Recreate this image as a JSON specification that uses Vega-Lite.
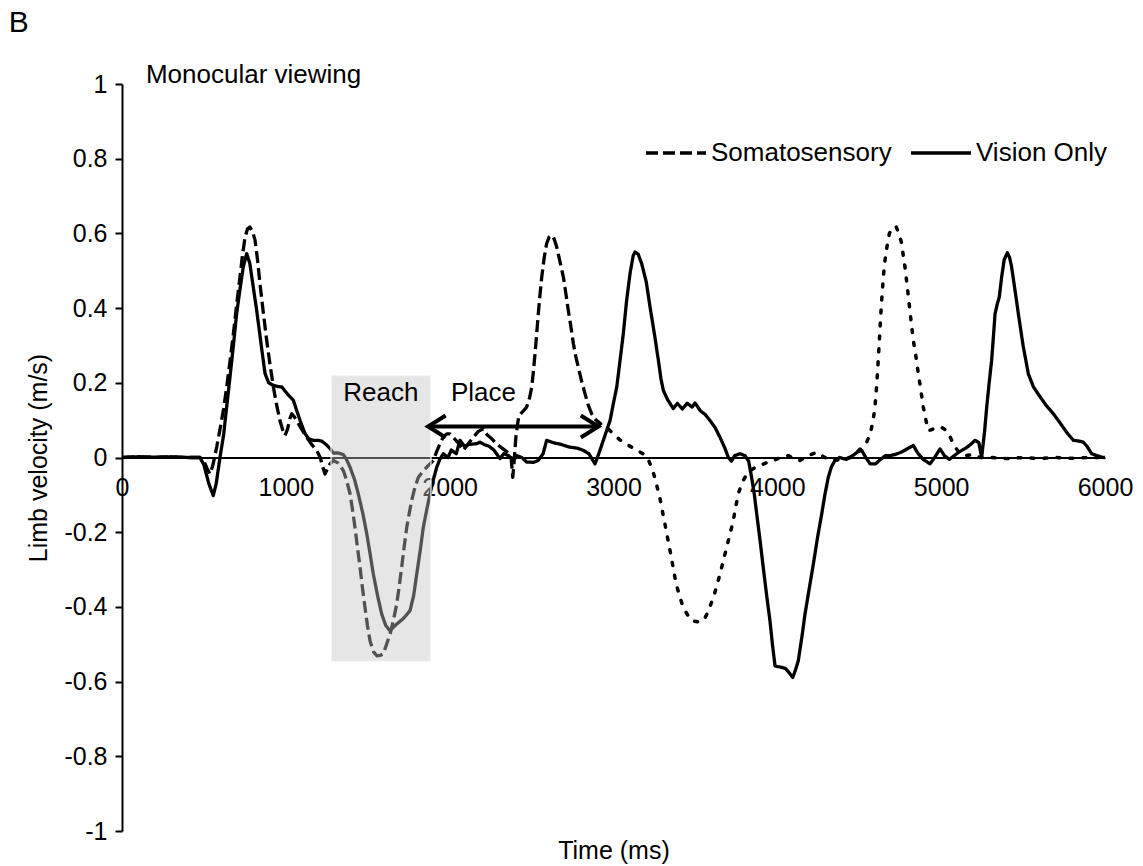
{
  "$schema": "https://vega.github.io/schema/vega-lite/v6.json",
  "width": 983,
  "height": 747,
  "autosize": {"type": "none"},
  "padding": {"left": 122, "top": 84, "right": 38, "bottom": 35},
  "background": "white",
  "config": {
    "view": {"stroke": null},
    "font": "Liberation Sans",
    "text": {"font": "Liberation Sans"}
  },
  "datasets": {
    "vision": [
      {"series":"Vision Only","t":0,"v":0},{"series":"Vision Only","t":100,"v":0.002},{"series":"Vision Only","t":200,"v":0.001},{"series":"Vision Only","t":300,"v":0.002},{"series":"Vision Only","t":400,"v":0},{"series":"Vision Only","t":476,"v":0},{"series":"Vision Only","t":500,"v":-0.02},{"series":"Vision Only","t":530,"v":-0.07},{"series":"Vision Only","t":557,"v":-0.102},{"series":"Vision Only","t":575,"v":-0.07},{"series":"Vision Only","t":598,"v":0},{"series":"Vision Only","t":620,"v":0.06},{"series":"Vision Only","t":640,"v":0.14},{"series":"Vision Only","t":659,"v":0.215},{"series":"Vision Only","t":680,"v":0.3},{"series":"Vision Only","t":700,"v":0.386},{"series":"Vision Only","t":720,"v":0.45},{"series":"Vision Only","t":740,"v":0.51},{"series":"Vision Only","t":761,"v":0.546},{"series":"Vision Only","t":780,"v":0.52},{"series":"Vision Only","t":800,"v":0.46},{"series":"Vision Only","t":822,"v":0.394},{"series":"Vision Only","t":850,"v":0.3},{"series":"Vision Only","t":873,"v":0.225},{"series":"Vision Only","t":895,"v":0.2},{"series":"Vision Only","t":924,"v":0.193},{"series":"Vision Only","t":950,"v":0.19},{"series":"Vision Only","t":975,"v":0.189},{"series":"Vision Only","t":1010,"v":0.17},{"series":"Vision Only","t":1046,"v":0.153},{"series":"Vision Only","t":1067,"v":0.125},{"series":"Vision Only","t":1087,"v":0.099},{"series":"Vision Only","t":1117,"v":0.064},{"series":"Vision Only","t":1140,"v":0.05},{"series":"Vision Only","t":1168,"v":0.046},{"series":"Vision Only","t":1195,"v":0.046},{"series":"Vision Only","t":1219,"v":0.044},{"series":"Vision Only","t":1245,"v":0.035},{"series":"Vision Only","t":1270,"v":0.024},{"series":"Vision Only","t":1290,"v":0.012},{"series":"Vision Only","t":1320,"v":0.012},{"series":"Vision Only","t":1350,"v":0.008},{"series":"Vision Only","t":1370,"v":-0.005},{"series":"Vision Only","t":1392,"v":-0.026},{"series":"Vision Only","t":1420,"v":-0.06},{"series":"Vision Only","t":1442,"v":-0.097},{"series":"Vision Only","t":1470,"v":-0.15},{"series":"Vision Only","t":1494,"v":-0.204},{"series":"Vision Only","t":1515,"v":-0.26},{"series":"Vision Only","t":1534,"v":-0.312},{"series":"Vision Only","t":1560,"v":-0.37},{"series":"Vision Only","t":1585,"v":-0.419},{"series":"Vision Only","t":1610,"v":-0.45},{"series":"Vision Only","t":1636,"v":-0.464},{"series":"Vision Only","t":1655,"v":-0.455},{"series":"Vision Only","t":1677,"v":-0.446},{"series":"Vision Only","t":1720,"v":-0.43},{"series":"Vision Only","t":1758,"v":-0.41},{"series":"Vision Only","t":1780,"v":-0.37},{"series":"Vision Only","t":1799,"v":-0.312},{"series":"Vision Only","t":1820,"v":-0.25},{"series":"Vision Only","t":1839,"v":-0.187},{"series":"Vision Only","t":1860,"v":-0.14},{"series":"Vision Only","t":1880,"v":-0.097},{"series":"Vision Only","t":1900,"v":-0.06},{"series":"Vision Only","t":1921,"v":-0.026},{"series":"Vision Only","t":1940,"v":-0.005},{"series":"Vision Only","t":1961,"v":0.01},{"series":"Vision Only","t":1990,"v":0},{"series":"Vision Only","t":2010,"v":0.02},{"series":"Vision Only","t":2040,"v":0.01},{"series":"Vision Only","t":2063,"v":0.046},{"series":"Vision Only","t":2090,"v":0.03},{"series":"Vision Only","t":2120,"v":0.035},{"series":"Vision Only","t":2165,"v":0.037},{"series":"Vision Only","t":2185,"v":0.041},{"series":"Vision Only","t":2210,"v":0.035},{"series":"Vision Only","t":2240,"v":0.03},{"series":"Vision Only","t":2270,"v":0.02},{"series":"Vision Only","t":2307,"v":-0.003},{"series":"Vision Only","t":2330,"v":0.01},{"series":"Vision Only","t":2360,"v":0.005},{"series":"Vision Only","t":2388,"v":-0.008},{"series":"Vision Only","t":2410,"v":0.005},{"series":"Vision Only","t":2440,"v":0},{"series":"Vision Only","t":2470,"v":-0.012},{"series":"Vision Only","t":2511,"v":-0.013},{"series":"Vision Only","t":2540,"v":-0.008},{"series":"Vision Only","t":2570,"v":0.01},{"series":"Vision Only","t":2592,"v":0.046},{"series":"Vision Only","t":2630,"v":0.04},{"series":"Vision Only","t":2680,"v":0.035},{"series":"Vision Only","t":2730,"v":0.028},{"series":"Vision Only","t":2780,"v":0.025},{"series":"Vision Only","t":2816,"v":0.019},{"series":"Vision Only","t":2850,"v":0.01},{"series":"Vision Only","t":2887,"v":-0.017},{"series":"Vision Only","t":2910,"v":0.01},{"series":"Vision Only","t":2938,"v":0.046},{"series":"Vision Only","t":2958,"v":0.072},{"series":"Vision Only","t":2979,"v":0.099},{"series":"Vision Only","t":2999,"v":0.144},{"series":"Vision Only","t":3020,"v":0.189},{"series":"Vision Only","t":3040,"v":0.26},{"series":"Vision Only","t":3060,"v":0.332},{"series":"Vision Only","t":3080,"v":0.42},{"series":"Vision Only","t":3101,"v":0.493},{"series":"Vision Only","t":3120,"v":0.54},{"series":"Vision Only","t":3131,"v":0.55},{"series":"Vision Only","t":3150,"v":0.545},{"series":"Vision Only","t":3172,"v":0.519},{"series":"Vision Only","t":3200,"v":0.47},{"series":"Vision Only","t":3223,"v":0.403},{"series":"Vision Only","t":3250,"v":0.33},{"series":"Vision Only","t":3274,"v":0.26},{"series":"Vision Only","t":3290,"v":0.21},{"series":"Vision Only","t":3304,"v":0.18},{"series":"Vision Only","t":3330,"v":0.155},{"series":"Vision Only","t":3365,"v":0.131},{"series":"Vision Only","t":3390,"v":0.145},{"series":"Vision Only","t":3420,"v":0.13},{"series":"Vision Only","t":3450,"v":0.145},{"series":"Vision Only","t":3480,"v":0.135},{"series":"Vision Only","t":3498,"v":0.146},{"series":"Vision Only","t":3530,"v":0.125},{"series":"Vision Only","t":3560,"v":0.115},{"series":"Vision Only","t":3589,"v":0.099},{"series":"Vision Only","t":3620,"v":0.08},{"series":"Vision Only","t":3650,"v":0.054},{"series":"Vision Only","t":3680,"v":0.025},{"series":"Vision Only","t":3701,"v":0},{"series":"Vision Only","t":3720,"v":-0.01},{"series":"Vision Only","t":3740,"v":0.005},{"series":"Vision Only","t":3772,"v":0.01},{"series":"Vision Only","t":3803,"v":0.005},{"series":"Vision Only","t":3825,"v":-0.01},{"series":"Vision Only","t":3843,"v":-0.053},{"series":"Vision Only","t":3860,"v":-0.1},{"series":"Vision Only","t":3874,"v":-0.151},{"series":"Vision Only","t":3894,"v":-0.22},{"series":"Vision Only","t":3914,"v":-0.294},{"series":"Vision Only","t":3935,"v":-0.37},{"series":"Vision Only","t":3955,"v":-0.437},{"series":"Vision Only","t":3970,"v":-0.5},{"series":"Vision Only","t":3986,"v":-0.558},{"series":"Vision Only","t":4005,"v":-0.56},{"series":"Vision Only","t":4027,"v":-0.562},{"series":"Vision Only","t":4050,"v":-0.565},{"series":"Vision Only","t":4070,"v":-0.575},{"series":"Vision Only","t":4094,"v":-0.589},{"series":"Vision Only","t":4110,"v":-0.57},{"series":"Vision Only","t":4128,"v":-0.544},{"series":"Vision Only","t":4150,"v":-0.48},{"series":"Vision Only","t":4169,"v":-0.419},{"series":"Vision Only","t":4195,"v":-0.35},{"series":"Vision Only","t":4220,"v":-0.285},{"series":"Vision Only","t":4245,"v":-0.215},{"series":"Vision Only","t":4271,"v":-0.151},{"series":"Vision Only","t":4290,"v":-0.1},{"series":"Vision Only","t":4311,"v":-0.053},{"series":"Vision Only","t":4330,"v":-0.025},{"series":"Vision Only","t":4352,"v":-0.008},{"series":"Vision Only","t":4380,"v":0},{"series":"Vision Only","t":4420,"v":-0.005},{"series":"Vision Only","t":4460,"v":0.005},{"series":"Vision Only","t":4490,"v":0.015},{"series":"Vision Only","t":4515,"v":0.019},{"series":"Vision Only","t":4540,"v":0},{"series":"Vision Only","t":4566,"v":-0.017},{"series":"Vision Only","t":4600,"v":-0.017},{"series":"Vision Only","t":4630,"v":-0.005},{"series":"Vision Only","t":4660,"v":0.005},{"series":"Vision Only","t":4688,"v":0.005},{"series":"Vision Only","t":4720,"v":0.008},{"series":"Vision Only","t":4760,"v":0.015},{"series":"Vision Only","t":4800,"v":0.025},{"series":"Vision Only","t":4830,"v":0.032},{"series":"Vision Only","t":4860,"v":0.01},{"series":"Vision Only","t":4890,"v":-0.005},{"series":"Vision Only","t":4932,"v":-0.017},{"series":"Vision Only","t":4960,"v":0},{"series":"Vision Only","t":4993,"v":0.023},{"series":"Vision Only","t":5020,"v":0.005},{"series":"Vision Only","t":5050,"v":-0.005},{"series":"Vision Only","t":5080,"v":0.005},{"series":"Vision Only","t":5110,"v":0.015},{"series":"Vision Only","t":5150,"v":0.025},{"series":"Vision Only","t":5180,"v":0.035},{"series":"Vision Only","t":5207,"v":0.046},{"series":"Vision Only","t":5230,"v":0.04},{"series":"Vision Only","t":5247,"v":0},{"series":"Vision Only","t":5265,"v":0.07},{"series":"Vision Only","t":5278,"v":0.135},{"series":"Vision Only","t":5293,"v":0.2},{"series":"Vision Only","t":5308,"v":0.26},{"series":"Vision Only","t":5320,"v":0.33},{"series":"Vision Only","t":5329,"v":0.385},{"series":"Vision Only","t":5342,"v":0.41},{"series":"Vision Only","t":5355,"v":0.43},{"series":"Vision Only","t":5369,"v":0.483},{"series":"Vision Only","t":5385,"v":0.53},{"series":"Vision Only","t":5404,"v":0.548},{"series":"Vision Only","t":5418,"v":0.535},{"series":"Vision Only","t":5430,"v":0.51},{"series":"Vision Only","t":5450,"v":0.45},{"series":"Vision Only","t":5471,"v":0.385},{"series":"Vision Only","t":5500,"v":0.3},{"series":"Vision Only","t":5532,"v":0.224},{"series":"Vision Only","t":5563,"v":0.189},{"series":"Vision Only","t":5600,"v":0.165},{"series":"Vision Only","t":5640,"v":0.14},{"series":"Vision Only","t":5685,"v":0.117},{"series":"Vision Only","t":5730,"v":0.09},{"series":"Vision Only","t":5770,"v":0.065},{"series":"Vision Only","t":5807,"v":0.046},{"series":"Vision Only","t":5840,"v":0.044},{"series":"Vision Only","t":5868,"v":0.041},{"series":"Vision Only","t":5890,"v":0.03},{"series":"Vision Only","t":5919,"v":0.01},{"series":"Vision Only","t":5950,"v":0.005},{"series":"Vision Only","t":5990,"v":0},{"series":"Vision Only","t":6000,"v":0}
    ],
    "soma": [
      {"series":"Somatosensory","t":0,"v":0},{"series":"Somatosensory","t":100,"v":0.002},{"series":"Somatosensory","t":200,"v":0},{"series":"Somatosensory","t":300,"v":0.001},{"series":"Somatosensory","t":400,"v":0},{"series":"Somatosensory","t":476,"v":0},{"series":"Somatosensory","t":500,"v":-0.01},{"series":"Somatosensory","t":520,"v":-0.03},{"series":"Somatosensory","t":537,"v":-0.044},{"series":"Somatosensory","t":555,"v":-0.02},{"series":"Somatosensory","t":578,"v":0.028},{"series":"Somatosensory","t":600,"v":0.08},{"series":"Somatosensory","t":620,"v":0.13},{"series":"Somatosensory","t":639,"v":0.189},{"series":"Somatosensory","t":660,"v":0.26},{"series":"Somatosensory","t":680,"v":0.332},{"series":"Somatosensory","t":700,"v":0.41},{"series":"Somatosensory","t":720,"v":0.483},{"series":"Somatosensory","t":735,"v":0.54},{"series":"Somatosensory","t":751,"v":0.59},{"series":"Somatosensory","t":766,"v":0.612},{"series":"Somatosensory","t":781,"v":0.617},{"series":"Somatosensory","t":797,"v":0.605},{"series":"Somatosensory","t":812,"v":0.582},{"series":"Somatosensory","t":827,"v":0.53},{"series":"Somatosensory","t":842,"v":0.466},{"series":"Somatosensory","t":862,"v":0.39},{"series":"Somatosensory","t":883,"v":0.314},{"series":"Somatosensory","t":903,"v":0.25},{"series":"Somatosensory","t":924,"v":0.189},{"series":"Somatosensory","t":944,"v":0.14},{"series":"Somatosensory","t":964,"v":0.099},{"series":"Somatosensory","t":980,"v":0.075},{"series":"Somatosensory","t":995,"v":0.059},{"series":"Somatosensory","t":1010,"v":0.075},{"series":"Somatosensory","t":1025,"v":0.105},{"series":"Somatosensory","t":1036,"v":0.117},{"series":"Somatosensory","t":1050,"v":0.11},{"series":"Somatosensory","t":1066,"v":0.099},{"series":"Somatosensory","t":1097,"v":0.075},{"series":"Somatosensory","t":1127,"v":0.054},{"series":"Somatosensory","t":1158,"v":0.035},{"series":"Somatosensory","t":1188,"v":0.019},{"series":"Somatosensory","t":1210,"v":0},{"series":"Somatosensory","t":1225,"v":-0.025},{"series":"Somatosensory","t":1239,"v":-0.044},{"series":"Somatosensory","t":1255,"v":-0.03},{"series":"Somatosensory","t":1270,"v":-0.017},{"series":"Somatosensory","t":1290,"v":-0.008},{"series":"Somatosensory","t":1320,"v":-0.015},{"series":"Somatosensory","t":1351,"v":-0.035},{"series":"Somatosensory","t":1370,"v":-0.06},{"series":"Somatosensory","t":1392,"v":-0.097},{"series":"Somatosensory","t":1407,"v":-0.14},{"series":"Somatosensory","t":1422,"v":-0.187},{"series":"Somatosensory","t":1437,"v":-0.24},{"series":"Somatosensory","t":1453,"v":-0.294},{"series":"Somatosensory","t":1468,"v":-0.35},{"series":"Somatosensory","t":1483,"v":-0.401},{"series":"Somatosensory","t":1498,"v":-0.45},{"series":"Somatosensory","t":1514,"v":-0.491},{"series":"Somatosensory","t":1535,"v":-0.52},{"series":"Somatosensory","t":1555,"v":-0.531},{"series":"Somatosensory","t":1575,"v":-0.53},{"series":"Somatosensory","t":1595,"v":-0.526},{"series":"Somatosensory","t":1615,"v":-0.5},{"series":"Somatosensory","t":1636,"v":-0.473},{"series":"Somatosensory","t":1657,"v":-0.435},{"series":"Somatosensory","t":1677,"v":-0.392},{"series":"Somatosensory","t":1692,"v":-0.345},{"series":"Somatosensory","t":1707,"v":-0.294},{"series":"Somatosensory","t":1722,"v":-0.24},{"series":"Somatosensory","t":1738,"v":-0.187},{"series":"Somatosensory","t":1753,"v":-0.15},{"series":"Somatosensory","t":1768,"v":-0.115},{"series":"Somatosensory","t":1788,"v":-0.08},{"series":"Somatosensory","t":1809,"v":-0.053},{"series":"Somatosensory","t":1835,"v":-0.038},{"series":"Somatosensory","t":1860,"v":-0.026},{"series":"Somatosensory","t":1880,"v":-0.017},{"series":"Somatosensory","t":1900,"v":-0.008},{"series":"Somatosensory","t":1920,"v":0.015},{"series":"Somatosensory","t":1941,"v":0.037},{"series":"Somatosensory","t":1961,"v":0.055},{"series":"Somatosensory","t":1982,"v":0.063},{"series":"Somatosensory","t":2002,"v":0.063},{"series":"Somatosensory","t":2030,"v":0.05},{"series":"Somatosensory","t":2060,"v":0.035},{"series":"Somatosensory","t":2083,"v":0.019},{"series":"Somatosensory","t":2110,"v":0.035},{"series":"Somatosensory","t":2144,"v":0.054},{"series":"Somatosensory","t":2175,"v":0.07},{"series":"Somatosensory","t":2205,"v":0.077},{"series":"Somatosensory","t":2230,"v":0.06},{"series":"Somatosensory","t":2257,"v":0.05},{"series":"Somatosensory","t":2290,"v":0.035},{"series":"Somatosensory","t":2320,"v":0.025},{"series":"Somatosensory","t":2350,"v":0.015},{"series":"Somatosensory","t":2375,"v":0},{"series":"Somatosensory","t":2385,"v":-0.053},{"series":"Somatosensory","t":2392,"v":-0.02},{"series":"Somatosensory","t":2405,"v":0.06},{"series":"Somatosensory","t":2420,"v":0.105},{"series":"Somatosensory","t":2429,"v":0.115},{"series":"Somatosensory","t":2450,"v":0.125},{"series":"Somatosensory","t":2470,"v":0.135},{"series":"Somatosensory","t":2488,"v":0.16},{"series":"Somatosensory","t":2501,"v":0.189},{"series":"Somatosensory","t":2511,"v":0.23},{"series":"Somatosensory","t":2521,"v":0.278},{"series":"Somatosensory","t":2531,"v":0.33},{"series":"Somatosensory","t":2541,"v":0.385},{"series":"Somatosensory","t":2551,"v":0.435},{"series":"Somatosensory","t":2562,"v":0.483},{"series":"Somatosensory","t":2577,"v":0.535},{"series":"Somatosensory","t":2592,"v":0.573},{"series":"Somatosensory","t":2607,"v":0.59},{"series":"Somatosensory","t":2623,"v":0.595},{"series":"Somatosensory","t":2638,"v":0.585},{"series":"Somatosensory","t":2653,"v":0.564},{"series":"Somatosensory","t":2673,"v":0.525},{"series":"Somatosensory","t":2694,"v":0.483},{"series":"Somatosensory","t":2709,"v":0.44},{"series":"Somatosensory","t":2724,"v":0.394},{"series":"Somatosensory","t":2740,"v":0.35},{"series":"Somatosensory","t":2755,"v":0.305},{"series":"Somatosensory","t":2770,"v":0.27},{"series":"Somatosensory","t":2785,"v":0.242},{"series":"Somatosensory","t":2805,"v":0.205},{"series":"Somatosensory","t":2826,"v":0.171},{"series":"Somatosensory","t":2846,"v":0.14},{"series":"Somatosensory","t":2867,"v":0.117},{"series":"Somatosensory","t":2887,"v":0.103},{"series":"Somatosensory","t":2907,"v":0.095},{"series":"Somatosensory","t":2938,"v":0.085},{"series":"Somatosensory","t":2958,"v":0.081},{"series":"Somatosensory","t":2999,"v":0.063},{"series":"Somatosensory","t":3040,"v":0.047},{"series":"Somatosensory","t":3090,"v":0.033},{"series":"Somatosensory","t":3141,"v":0.02},{"series":"Somatosensory","t":3180,"v":0.01},{"series":"Somatosensory","t":3212,"v":-0.005},{"series":"Somatosensory","t":3235,"v":-0.03},{"series":"Somatosensory","t":3253,"v":-0.055},{"series":"Somatosensory","t":3270,"v":-0.085},{"series":"Somatosensory","t":3284,"v":-0.11},{"series":"Somatosensory","t":3299,"v":-0.145},{"series":"Somatosensory","t":3314,"v":-0.178},{"series":"Somatosensory","t":3330,"v":-0.215},{"series":"Somatosensory","t":3345,"v":-0.249},{"series":"Somatosensory","t":3360,"v":-0.285},{"series":"Somatosensory","t":3375,"v":-0.321},{"series":"Somatosensory","t":3390,"v":-0.35},{"series":"Somatosensory","t":3406,"v":-0.375},{"series":"Somatosensory","t":3421,"v":-0.395},{"series":"Somatosensory","t":3437,"v":-0.41},{"series":"Somatosensory","t":3457,"v":-0.425},{"series":"Somatosensory","t":3477,"v":-0.437},{"series":"Somatosensory","t":3512,"v":-0.44},{"series":"Somatosensory","t":3548,"v":-0.437},{"series":"Somatosensory","t":3564,"v":-0.425},{"series":"Somatosensory","t":3579,"v":-0.41},{"series":"Somatosensory","t":3594,"v":-0.393},{"series":"Somatosensory","t":3609,"v":-0.375},{"series":"Somatosensory","t":3630,"v":-0.345},{"series":"Somatosensory","t":3650,"v":-0.312},{"series":"Somatosensory","t":3670,"v":-0.277},{"series":"Somatosensory","t":3691,"v":-0.24},{"series":"Somatosensory","t":3711,"v":-0.205},{"series":"Somatosensory","t":3731,"v":-0.169},{"series":"Somatosensory","t":3747,"v":-0.13},{"series":"Somatosensory","t":3762,"v":-0.097},{"series":"Somatosensory","t":3777,"v":-0.077},{"series":"Somatosensory","t":3792,"v":-0.062},{"series":"Somatosensory","t":3812,"v":-0.045},{"series":"Somatosensory","t":3833,"v":-0.035},{"series":"Somatosensory","t":3864,"v":-0.027},{"series":"Somatosensory","t":3894,"v":-0.021},{"series":"Somatosensory","t":3935,"v":-0.014},{"series":"Somatosensory","t":3975,"v":-0.008},{"series":"Somatosensory","t":4020,"v":0},{"series":"Somatosensory","t":4067,"v":0.005},{"series":"Somatosensory","t":4100,"v":-0.002},{"series":"Somatosensory","t":4138,"v":-0.008},{"series":"Somatosensory","t":4190,"v":0.005},{"series":"Somatosensory","t":4240,"v":0.014},{"series":"Somatosensory","t":4290,"v":0},{"series":"Somatosensory","t":4342,"v":-0.008},{"series":"Somatosensory","t":4400,"v":-0.005},{"series":"Somatosensory","t":4450,"v":0},{"series":"Somatosensory","t":4500,"v":0.02},{"series":"Somatosensory","t":4545,"v":0.041},{"series":"Somatosensory","t":4565,"v":0.06},{"series":"Somatosensory","t":4576,"v":0.081},{"series":"Somatosensory","t":4588,"v":0.11},{"series":"Somatosensory","t":4596,"v":0.135},{"series":"Somatosensory","t":4604,"v":0.18},{"series":"Somatosensory","t":4611,"v":0.224},{"series":"Somatosensory","t":4617,"v":0.27},{"series":"Somatosensory","t":4623,"v":0.314},{"series":"Somatosensory","t":4628,"v":0.355},{"series":"Somatosensory","t":4633,"v":0.394},{"series":"Somatosensory","t":4640,"v":0.44},{"series":"Somatosensory","t":4647,"v":0.483},{"series":"Somatosensory","t":4655,"v":0.52},{"series":"Somatosensory","t":4663,"v":0.546},{"series":"Somatosensory","t":4673,"v":0.575},{"series":"Somatosensory","t":4684,"v":0.6},{"series":"Somatosensory","t":4700,"v":0.613},{"series":"Somatosensory","t":4724,"v":0.619},{"series":"Somatosensory","t":4742,"v":0.6},{"series":"Somatosensory","t":4759,"v":0.573},{"series":"Somatosensory","t":4769,"v":0.54},{"series":"Somatosensory","t":4779,"v":0.51},{"series":"Somatosensory","t":4790,"v":0.47},{"series":"Somatosensory","t":4800,"v":0.43},{"series":"Somatosensory","t":4815,"v":0.37},{"series":"Somatosensory","t":4830,"v":0.314},{"series":"Somatosensory","t":4846,"v":0.27},{"series":"Somatosensory","t":4861,"v":0.224},{"series":"Somatosensory","t":4876,"v":0.18},{"series":"Somatosensory","t":4891,"v":0.135},{"series":"Somatosensory","t":4907,"v":0.1},{"series":"Somatosensory","t":4922,"v":0.072},{"series":"Somatosensory","t":4945,"v":0.075},{"series":"Somatosensory","t":4973,"v":0.081},{"series":"Somatosensory","t":5005,"v":0.08},{"series":"Somatosensory","t":5034,"v":0.072},{"series":"Somatosensory","t":5055,"v":0.055},{"series":"Somatosensory","t":5074,"v":0.037},{"series":"Somatosensory","t":5095,"v":0.022},{"series":"Somatosensory","t":5115,"v":0.01},{"series":"Somatosensory","t":5150,"v":0.005},{"series":"Somatosensory","t":5190,"v":0.008},{"series":"Somatosensory","t":5237,"v":0},{"series":"Somatosensory","t":5300,"v":0},{"series":"Somatosensory","t":5400,"v":-0.003},{"series":"Somatosensory","t":5500,"v":0},{"series":"Somatosensory","t":5600,"v":-0.003},{"series":"Somatosensory","t":5700,"v":0},{"series":"Somatosensory","t":5800,"v":-0.002},{"series":"Somatosensory","t":5900,"v":0},{"series":"Somatosensory","t":6000,"v":0}
    ],
    "reach": [{"t1": 1276, "t2": 1886, "v1": 0.22, "v2": -0.547}],
    "arrow": [{"t1": 1868, "t2": 2908, "v": 0.083}],
    "heads": [{"t": 1868, "v": 0.083, "dir": "left"}, {"t": 2908, "v": 0.083, "dir": "right"}],
    "labels": [
      {"t": 1580, "v": 0.152, "text": "Reach"},
      {"t": 2206, "v": 0.152, "text": "Place"},
      {"t": 803, "v": 1.003, "text": "Monocular viewing"}
    ],
    "panel": [{"t": -630, "v": 1.138, "text": "B"}]
  },
  "layer": [
    {
      "data": {"name": "vision"},
      "mark": {"type": "line", "color": "black", "strokeWidth": 3.3, "strokeJoin": "round"},
      "encoding": {
        "x": {
          "field": "t", "type": "quantitative",
          "scale": {"domain": [0, 6000], "nice": false, "zero": false},
          "axis": {
            "title": "Time (ms)", "offset": -373.5, "ticks": false, "grid": false,
            "values": [0, 1000, 2000, 3000, 4000, 5000, 6000], "format": "d",
            "domainColor": "black", "domainWidth": 2,
            "labelFontSize": 25, "labelColor": "black", "labelPadding": 18,
            "labelFlush": false, "labelOverlap": false, "labelFont": "Liberation Sans",
            "titleFontSize": 25, "titleFontWeight": "normal", "titleColor": "black",
            "titleFont": "Liberation Sans", "titleY": 393, "titleBaseline": "middle"
          }
        },
        "y": {
          "field": "v", "type": "quantitative",
          "scale": {"domain": [-1, 1], "nice": false, "zero": false},
          "axis": {
            "title": "Limb velocity (m/s)", "grid": false,
            "values": [-1, -0.8, -0.6, -0.4, -0.2, 0, 0.2, 0.4, 0.6, 0.8, 1],
            "labelExpr": "datum.value < 0 ? '-' + format(-datum.value, '~g') : format(datum.value, '~g')",
            "domainColor": "black", "domainWidth": 2,
            "tickColor": "black", "tickWidth": 2, "tickSize": 7,
            "labelFontSize": 25, "labelColor": "black", "labelPadding": 8,
            "labelFont": "Liberation Sans",
            "titleFontSize": 25, "titleFontWeight": "normal", "titleColor": "black",
            "titleFont": "Liberation Sans",
            "titleX": -84, "titleY": 373.5, "titleAngle": 270,
            "titleAlign": "center", "titleBaseline": "middle"
          }
        },
        "strokeDash": {
          "field": "series", "type": "nominal",
          "scale": {"domain": ["Somatosensory", "Vision Only"], "range": [[12, 5], [1, 0]]},
          "legend": {
            "title": null, "orient": "none", "legendX": 522, "legendY": 37,
            "direction": "horizontal", "symbolType": "stroke", "symbolSize": 3600,
            "symbolStrokeWidth": 3.5, "symbolStrokeColor": "black",
            "labelFontSize": 26, "labelColor": "black", "labelFont": "Liberation Sans",
            "labelLimit": 0, "labelOffset": 3, "columnPadding": 12, "padding": 0
          }
        },
        "order": {"field": "t", "type": "quantitative"}
      }
    },
    {
      "data": {"name": "soma"},
      "transform": [{"filter": "datum.t <= 2907"}],
      "mark": {"type": "line", "color": "black", "strokeWidth": 3.3, "strokeJoin": "round"},
      "encoding": {
        "x": {"field": "t", "type": "quantitative"},
        "y": {"field": "v", "type": "quantitative"},
        "strokeDash": {"field": "series", "type": "nominal"},
        "order": {"field": "t", "type": "quantitative"}
      }
    },
    {
      "data": {"name": "soma"},
      "transform": [{"filter": "datum.t >= 2907"}],
      "mark": {"type": "line", "color": "black", "strokeWidth": 3.5, "strokeDash": [3, 10], "strokeCap": "round", "strokeJoin": "round"},
      "encoding": {
        "x": {"field": "t", "type": "quantitative"},
        "y": {"field": "v", "type": "quantitative"},
        "order": {"field": "t", "type": "quantitative"}
      }
    },
    {
      "data": {"name": "reach"},
      "mark": {"type": "rect", "fill": "#c4c4c4", "fillOpacity": 0.42, "stroke": "white", "strokeOpacity": 0.6, "strokeWidth": 2},
      "encoding": {
        "x": {"field": "t1", "type": "quantitative"},
        "x2": {"field": "t2"},
        "y": {"field": "v1", "type": "quantitative"},
        "y2": {"field": "v2"}
      }
    },
    {
      "data": {"name": "arrow"},
      "mark": {"type": "rule", "color": "black", "strokeWidth": 4},
      "encoding": {
        "x": {"field": "t1", "type": "quantitative"},
        "x2": {"field": "t2"},
        "y": {"field": "v", "type": "quantitative"}
      }
    },
    {
      "data": {"name": "heads"},
      "mark": {"type": "point", "filled": false, "stroke": "black", "strokeWidth": 4, "size": 484, "opacity": 1, "strokeJoin": "miter"},
      "encoding": {
        "x": {"field": "t", "type": "quantitative"},
        "y": {"field": "v", "type": "quantitative"},
        "shape": {
          "field": "dir", "type": "nominal",
          "scale": {"domain": ["left", "right"], "range": ["M 1.6 -1 L 0 0 L 1.6 1", "M -1.6 -1 L 0 0 L -1.6 1"]},
          "legend": null
        }
      }
    },
    {
      "data": {"name": "labels"},
      "mark": {"type": "text", "fontSize": 26, "color": "black", "align": "center", "baseline": "alphabetic", "font": "Liberation Sans"},
      "encoding": {
        "x": {"field": "t", "type": "quantitative"},
        "y": {"field": "v", "type": "quantitative"},
        "text": {"field": "text"}
      }
    },
    {
      "data": {"name": "panel"},
      "mark": {"type": "text", "fontSize": 30, "color": "black", "align": "center", "baseline": "alphabetic", "font": "Liberation Sans"},
      "encoding": {
        "x": {"field": "t", "type": "quantitative"},
        "y": {"field": "v", "type": "quantitative"},
        "text": {"field": "text"}
      }
    }
  ]
}
